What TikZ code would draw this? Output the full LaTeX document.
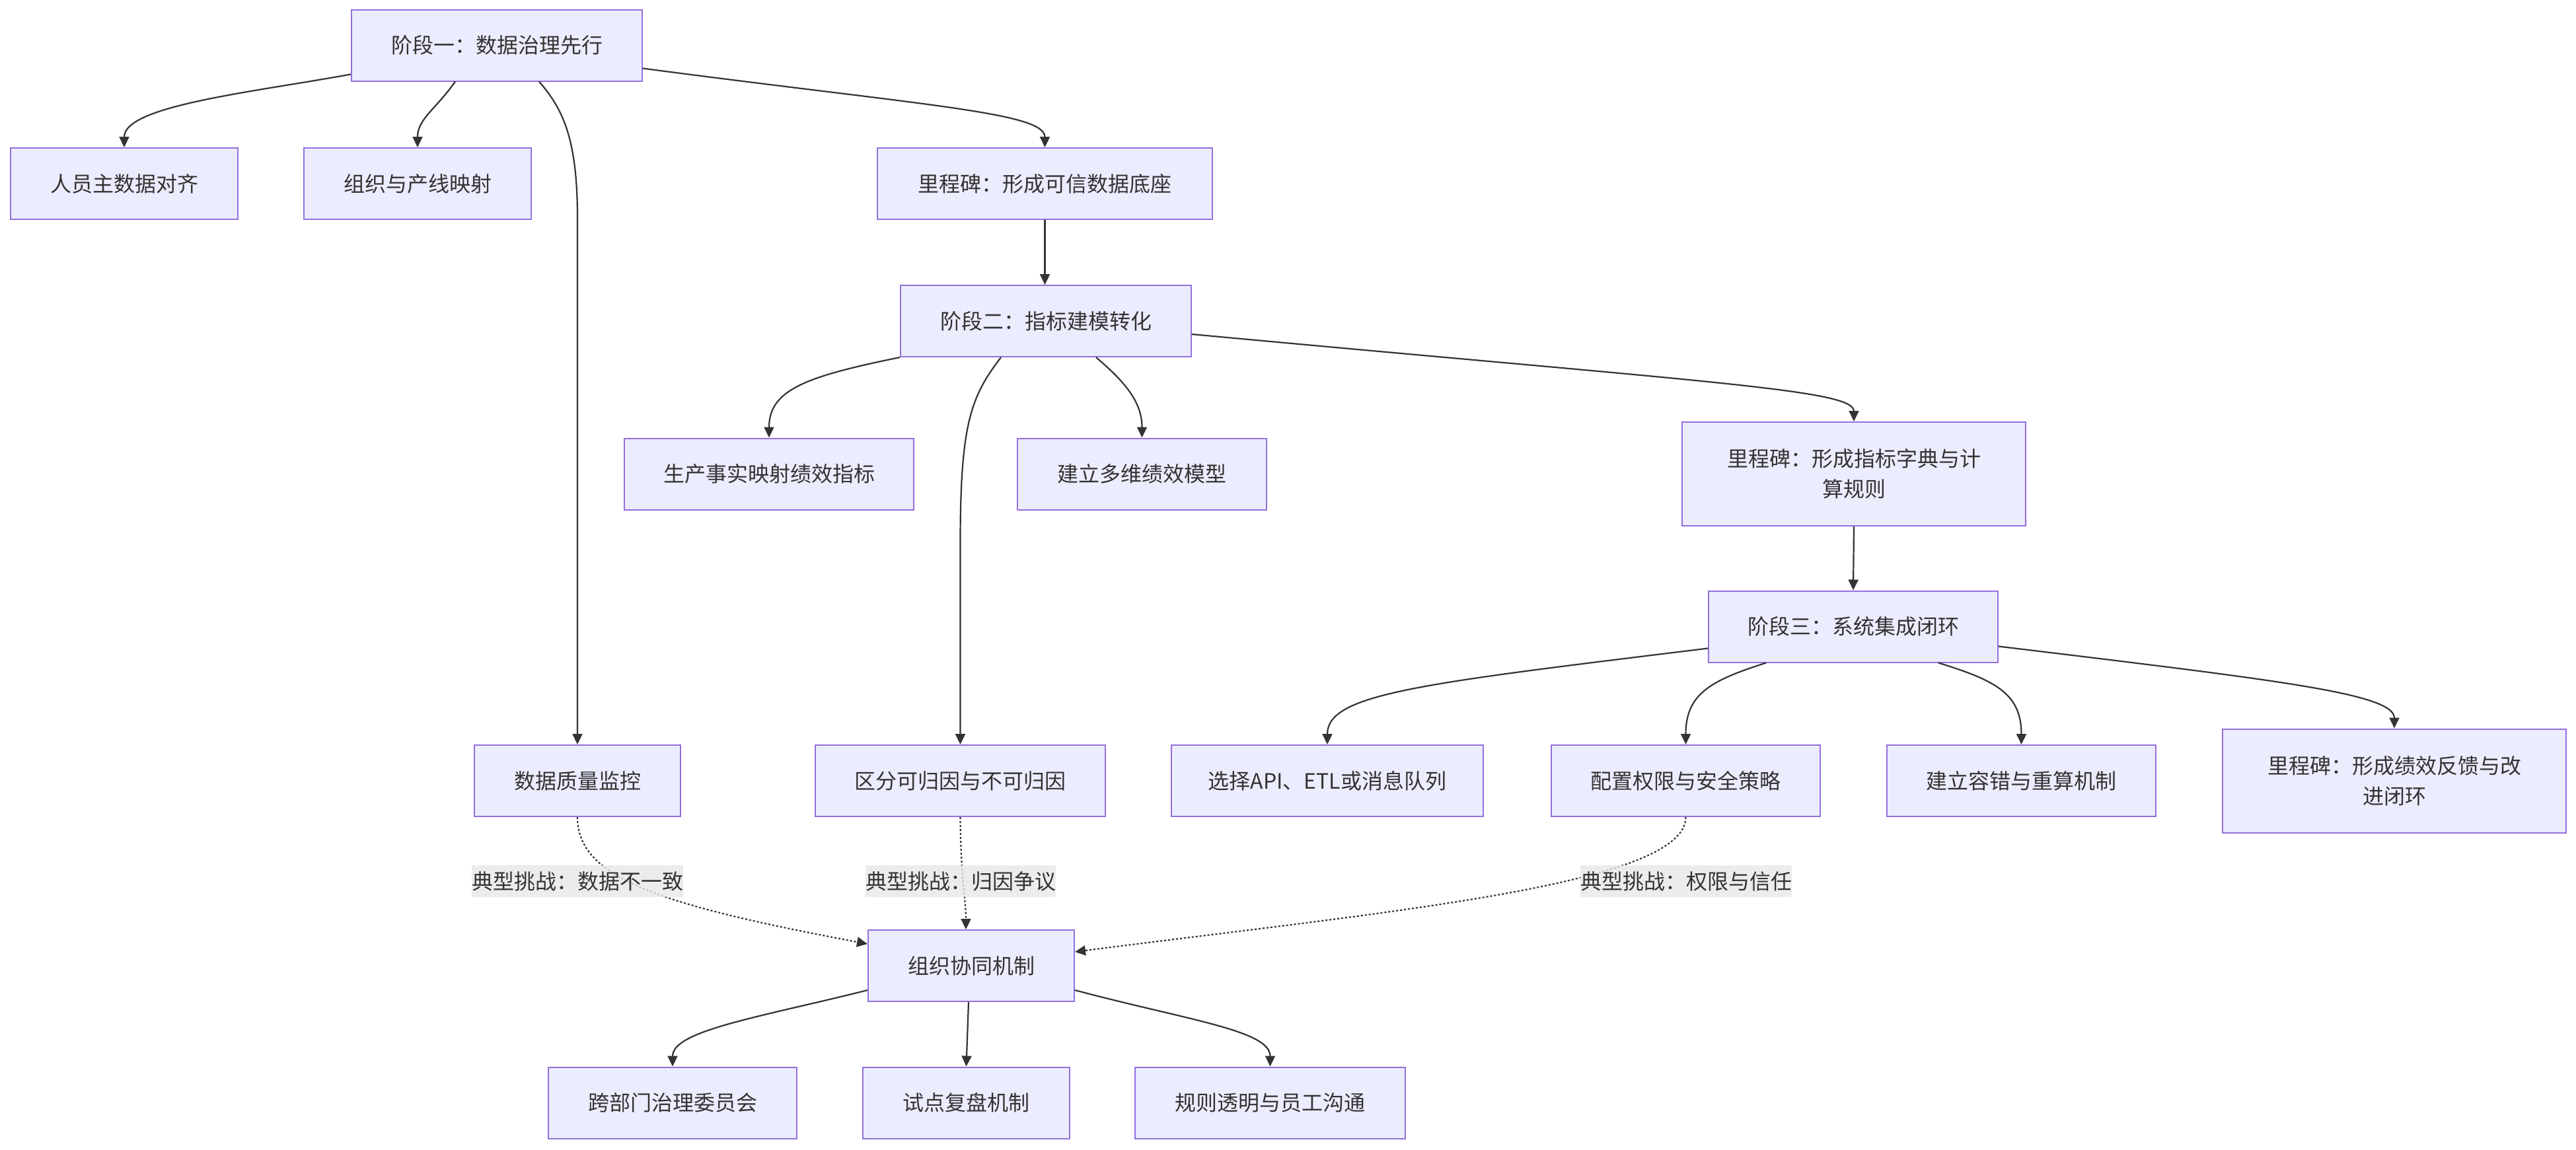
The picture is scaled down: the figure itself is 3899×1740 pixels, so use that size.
\documentclass[tikz,border=0pt]{standalone}
\usepackage{fontspec}
\setmainfont{Noto Sans CJK SC}
\usetikzlibrary{arrows.meta}
\definecolor{nodefill}{HTML}{ECECFF}
\definecolor{nodeborder}{HTML}{9370DB}
\definecolor{textcol}{HTML}{333333}
\definecolor{edgecol}{HTML}{333333}
\definecolor{labelbg}{HTML}{E8E8E8}
\tikzset{
  box/.style={draw=nodeborder, fill=nodefill, line width=2pt, text=textcol,
    minimum height=108pt, inner sep=0pt, align=center,
    font=\fontsize{32}{46}\selectfont},
  tall/.style={minimum height=157pt},
  edge/.style={draw=edgecol, line width=2.2pt,
    -{Triangle[length=16pt,width=15pt]}},
  dottededge/.style={edge, dash pattern=on 3pt off 3pt},
  elabel/.style={fill=labelbg, fill opacity=0.8, text opacity=1, text=textcol,
    inner xsep=0pt, inner ysep=0pt, minimum height=48pt,
    font=\fontsize{32}{40}\selectfont}
}
\begin{document}
\begin{tikzpicture}[x=1pt,y=-1pt]
\useasboundingbox[fill=white] (0,0) rectangle (3899,1740);

\node[box, minimum width=440pt] (A) at (752,68.5) {阶段一：数据治理先行};
\node[box, minimum width=344pt] (B) at (188,278) {人员主数据对齐};
\node[box, minimum width=344pt] (C) at (632,278) {组织与产线映射};
\node[box, minimum width=507pt] (D) at (1581.5,278) {里程碑：形成可信数据底座};
\node[box, minimum width=440pt] (E) at (1583,486) {阶段二：指标建模转化};
\node[box, minimum width=438pt] (F) at (1164,717.5) {生产事实映射绩效指标};
\node[box, minimum width=377pt] (G) at (1728.5,717.5) {建立多维绩效模型};
\node[box, tall, minimum width=520pt] (H) at (2806,717.5) {里程碑：形成指标字典与计\\算规则};
\node[box, minimum width=438pt] (I) at (2805,948.5) {阶段三：系统集成闭环};
\node[box, minimum width=312pt] (J) at (874,1182) {数据质量监控};
\node[box, minimum width=439pt] (K) at (1453.5,1182) {区分可归因与不可归因};
\node[box, minimum width=472pt] (L) at (2009,1182) {选择API、ETL或消息队列};
\node[box, minimum width=407pt] (M) at (2551.5,1182) {配置权限与安全策略};
\node[box, minimum width=407pt] (N) at (3059.5,1182) {建立容错与重算机制};
\node[box, tall, minimum width=520pt] (O) at (3624,1182) {里程碑：形成绩效反馈与改\\进闭环};
\node[box, minimum width=312pt] (P) at (1470,1462) {组织协同机制};
\node[box, minimum width=376pt] (Q) at (1018,1669.5) {跨部门治理委员会};
\node[box, minimum width=313pt] (R) at (1462.5,1669.5) {试点复盘机制};
\node[box, minimum width=409pt] (S) at (1922.5,1669.5) {规则透明与员工沟通};

% phase one
\draw[edge] ([yshift=11pt]A.south west) .. controls (380,140) and (188,160) .. (B.north);
\draw[edge] ([xshift=-63pt]A.south) .. controls (660,165) and (632,180) .. (C.north);
\draw[edge] ([xshift=64pt]A.south) .. controls (852,165) and (874,210) .. (874,330) -- (J.north);
\draw[edge] ([yshift=20pt]A.south east) .. controls (1400,160) and (1581.5,170) .. (D.north);
\draw[edge] (D.south) -- (D.south |- E.north);

% phase two
\draw[edge] (E.south west) .. controls (1220,570) and (1164,590) .. (F.north);
\draw[edge] ([xshift=-68pt]E.south) .. controls (1470,600) and (1453.5,640) .. (1453.5,820) -- (K.north);
\draw[edge] ([xshift=76pt]E.south) .. controls (1705,580) and (1728.5,610) .. (G.north);
\draw[edge] ([yshift=35pt]E.south east) .. controls (2600,580) and (2806,590) .. (H.north);
\draw[edge] (H.south) -- (I.north);

% phase three
\draw[edge] ([yshift=22pt]I.south west) .. controls (2150,1035) and (2009,1050) .. (L.north);
\draw[edge] ([xshift=-132pt]I.south) .. controls (2590,1030) and (2551.5,1050) .. (M.north);
\draw[edge] ([xshift=129pt]I.south) .. controls (3020,1030) and (3059.5,1050) .. (N.north);
\draw[edge] ([yshift=25pt]I.south east) .. controls (3450,1030) and (3624,1050) .. (O.north);

% challenges
\draw[dottededge] (J.south) .. controls (874,1330) and (1000,1370) .. ([yshift=-22pt]P.north west);
\draw[dottededge] (K.south) .. controls (1454,1330) and (1462,1360) .. ([xshift=-8pt]P.north);
\draw[dottededge] (M.south) .. controls (2551.5,1340) and (2100,1380) .. ([yshift=-34pt]P.north east);

% coordination
\draw[edge] ([yshift=18pt]P.south west) .. controls (1150,1540) and (1018,1560) .. (Q.north);
\draw[edge] ([xshift=-4pt]P.south) -- (R.north);
\draw[edge] ([yshift=18pt]P.south east) .. controls (1800,1545) and (1922.5,1560) .. (S.north);

\node[elabel] (l1) at (874,1334) {典型挑战：数据不一致};
\node[elabel] (l2) at (1454,1334) {典型挑战：归因争议};
\node[elabel] (l3) at (2552,1334) {典型挑战：权限与信任};
\end{tikzpicture}
\end{document}
